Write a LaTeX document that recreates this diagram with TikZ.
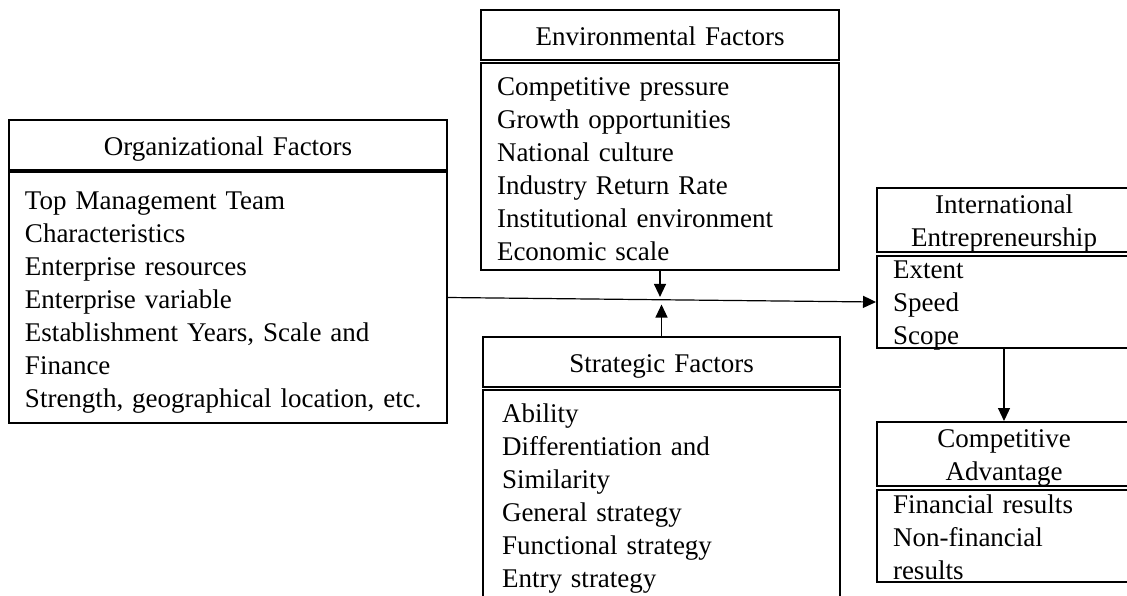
\documentclass[tikz,border=0pt]{standalone}
\usepackage{fontspec}
\setmainfont{Liberation Serif}
\usetikzlibrary{arrows.meta}

\begin{document}
\begin{tikzpicture}[x=0.5pt,y=-0.5pt,>={Triangle[length=6.5pt,width=6pt]},
every node/.style={font=\fontsize{13.5}{16.5}\selectfont},
boxhead/.style={draw,line width=1pt,align=center,inner sep=0pt,text height=17.5pt,text depth=7.5pt},
twohead/.style={boxhead,text height=12.5pt,text depth=19.5pt},
boxlist/.style={draw,line width=1pt,align=left,inner xsep=8pt,inner ysep=0pt}]
\clip (0,0) rectangle (1127,595);
\node[boxhead,text width=219pt,minimum height=25pt] (orghead) at (228,145) {Organizational Factors};
\node[boxlist,text width=203pt,minimum height=125.5pt,text height=18.5pt,text depth=107pt] (orglist) at (228,297.5)
{Top Management Team\\Characteristics\\Enterprise resources\\Enterprise variable\\Establishment Years, Scale and\\Finance\\Strength, geographical location, etc.};
\node[boxhead,text width=179pt,minimum height=25pt] (envhead) at (660,35) {Environmental Factors};
\node[boxlist,text width=163pt,minimum height=103.5pt,text height=16pt,text depth=87.5pt] (envlist) at (660,166.5)
{Competitive pressure\\Growth opportunities\\National culture\\Industry Return Rate\\Institutional environment\\Economic scale};
\node[boxhead,text width=178.5pt,minimum height=25pt] (strhead) at (661.5,362) {Strategic Factors};
\node[boxlist,inner xsep=9.5pt,text width=159.5pt,minimum height=105pt,text height=16pt,text depth=89pt] (strlist) at (661.5,495)
{Ability\\Differentiation and\\Similarity\\General strategy\\Functional strategy\\Entry strategy};
\node[twohead,text width=127pt,minimum height=32pt] (iehead) at (1004,220) {International\\Entrepreneurship};
\node[boxlist,text width=111pt,minimum height=46pt,text height=11pt,text depth=35pt] (ielist) at (1004,302) {Extent\\Speed\\Scope};
\node[twohead,text width=127pt,minimum height=32pt] (cahead) at (1004,454) {Competitive\\Advantage};
\node[boxlist,text width=111pt,minimum height=46pt,text height=11.5pt,text depth=34.5pt] (calist) at (1004,536) {Financial results\\Non-financial\\results};
\path (orglist.east) -- (ielist.west) coordinate[pos=0.495] (jn);
\path[->,line width=0.6pt] (orglist.east) edge (ielist.west);
\path[->,line width=0.6pt,shorten >=1.4pt] (envlist.south) edge (envlist.south |- jn);
\path[->,line width=0.6pt,shorten >=2.4pt] (strhead.north) edge (strhead.north |- jn);
\path[->,line width=0.6pt] (ielist.south) edge (cahead.north);
\end{tikzpicture}
\end{document}
